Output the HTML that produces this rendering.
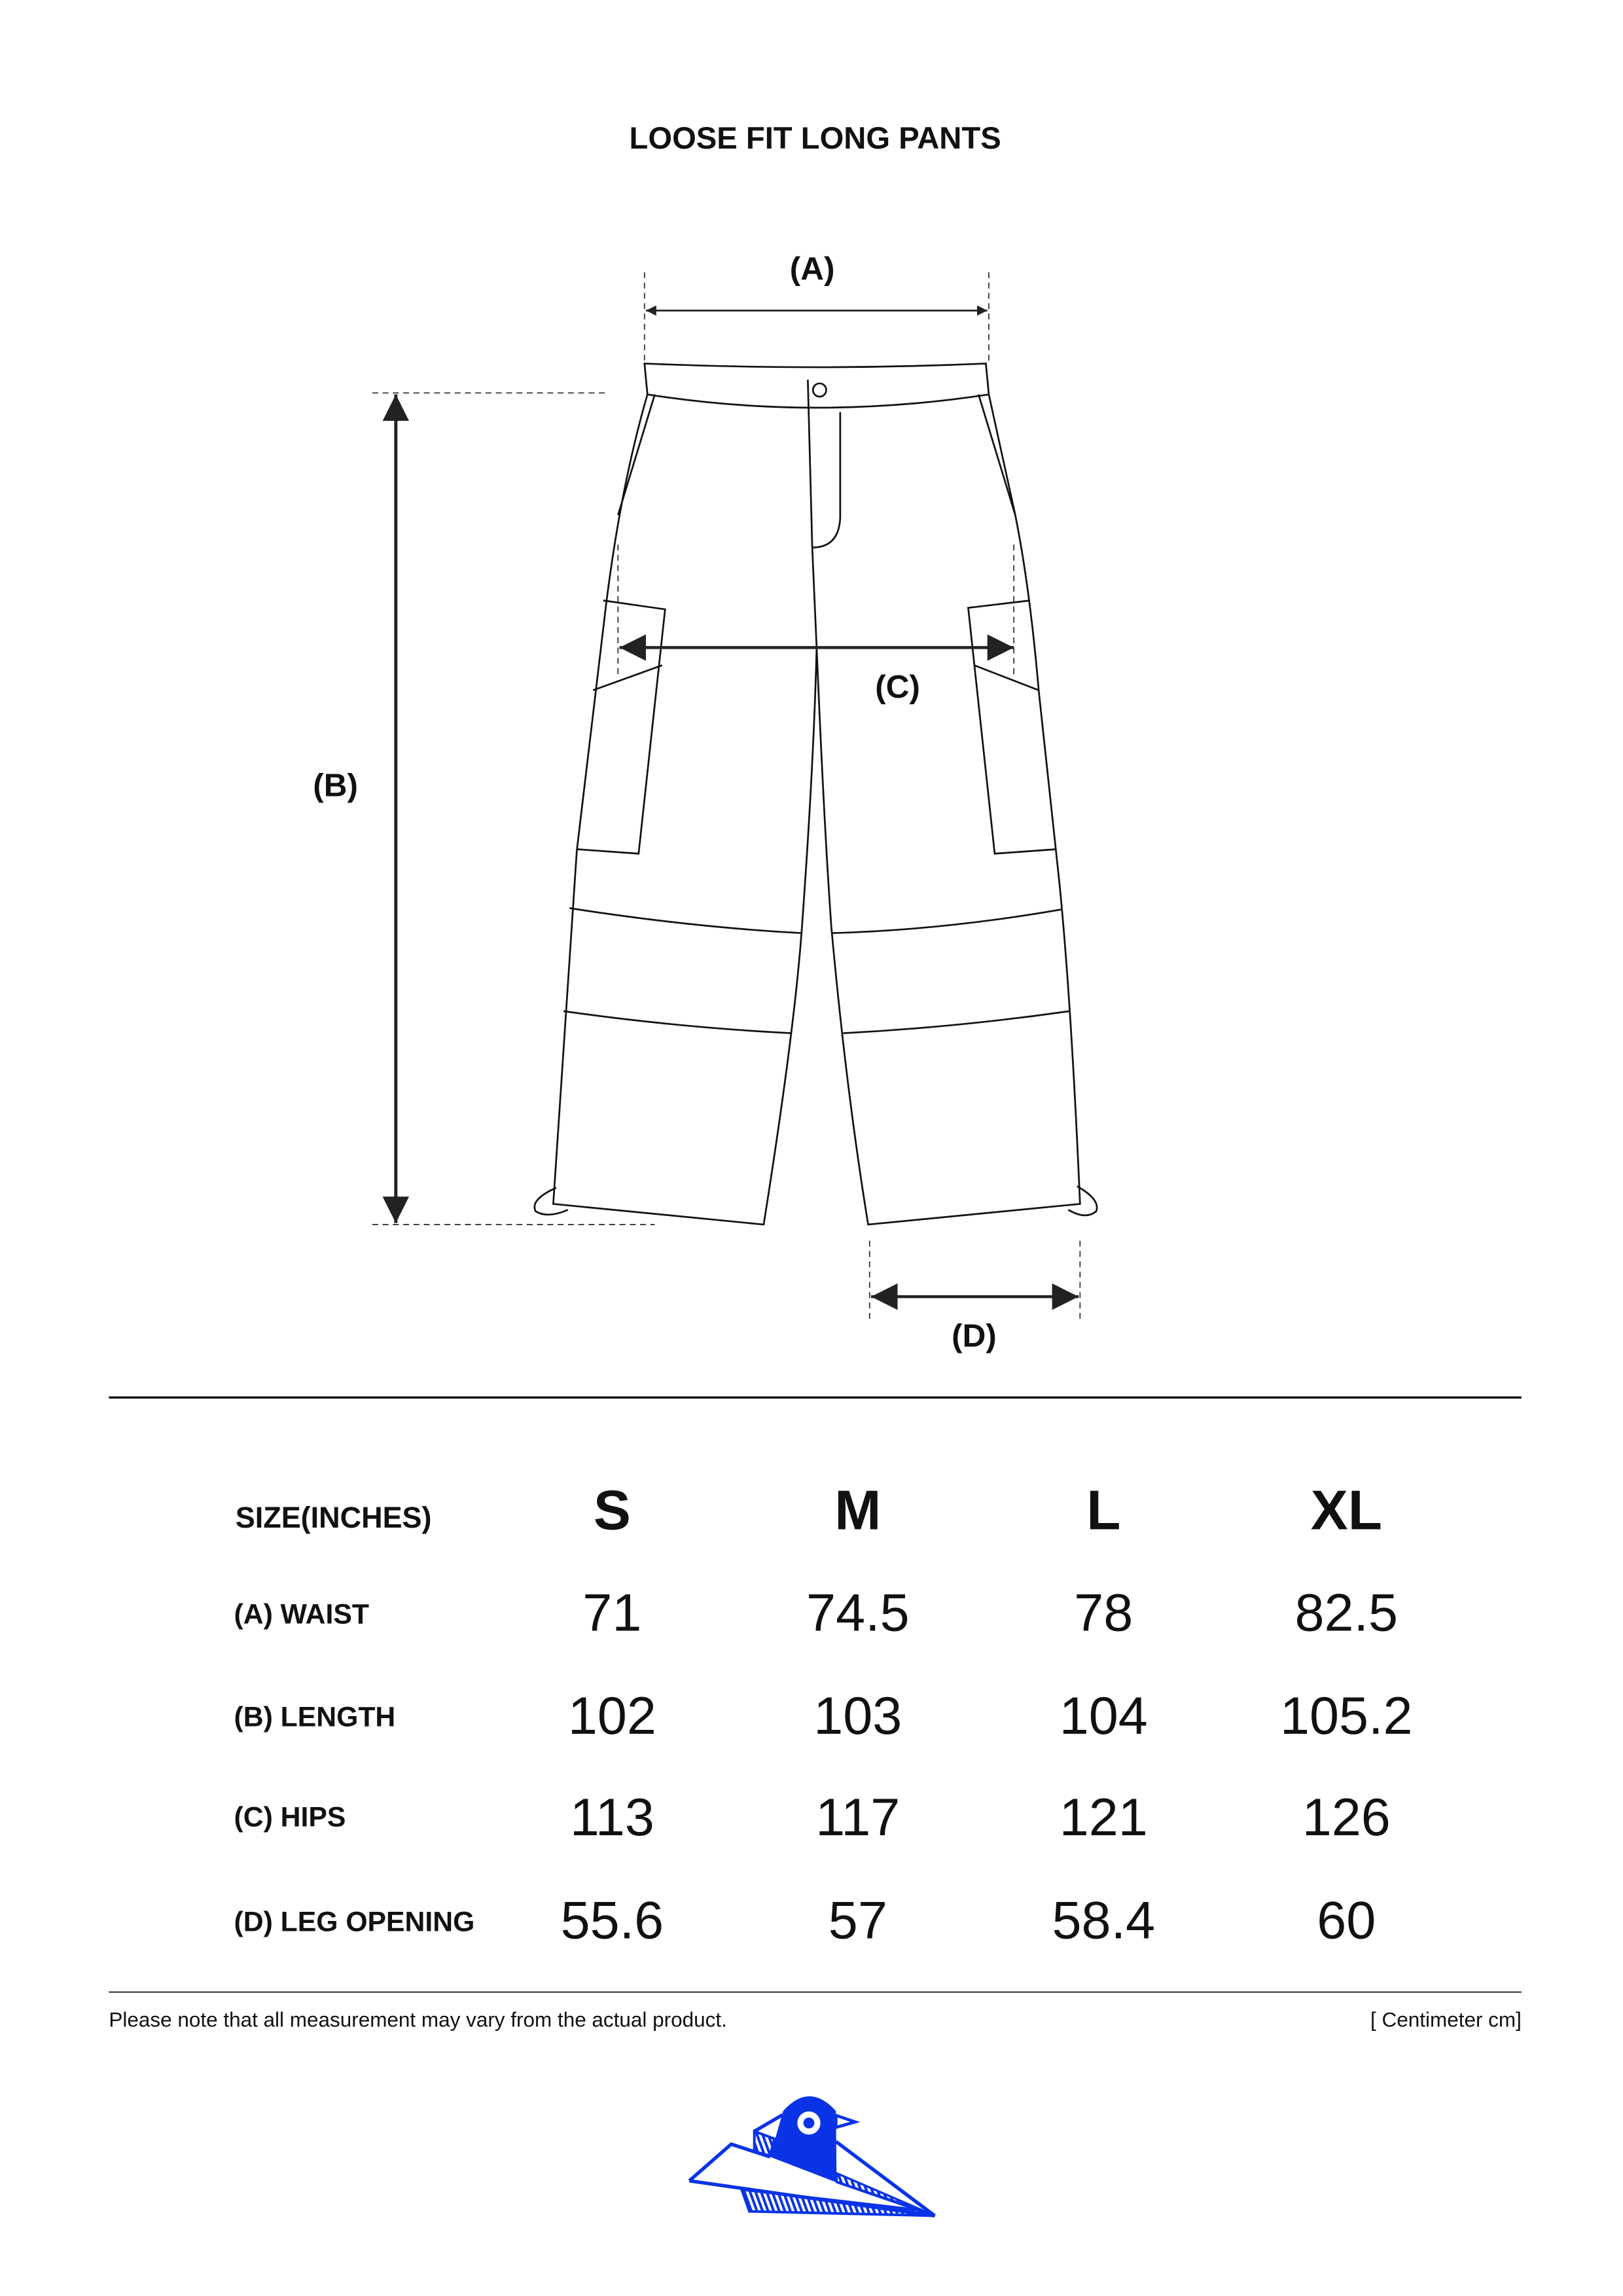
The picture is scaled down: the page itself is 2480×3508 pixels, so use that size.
<!DOCTYPE html>
<html><head><meta charset="utf-8"><style>
html,body{margin:0;padding:0;background:#fff;}
svg{display:block;}
text{font-family:"Liberation Sans",sans-serif;fill:#111;}
</style></head><body>
<svg width="2480" height="3508" viewBox="0 0 1103 1560" preserveAspectRatio="none" xmlns="http://www.w3.org/2000/svg">
<defs>
<marker id="ah" viewBox="0 0 10 10" refX="10" refY="5" markerWidth="7" markerHeight="7" orient="auto-start-reverse" markerUnits="userSpaceOnUse"><path d="M0,0 L10,5 L0,10 Z" fill="#222"/></marker>
<marker id="ahb" viewBox="0 0 10 10" refX="10" refY="5" markerWidth="18" markerHeight="18" orient="auto-start-reverse" markerUnits="userSpaceOnUse"><path d="M0,0 L10,5 L0,10 Z" fill="#222"/></marker>
<pattern id="st" patternUnits="userSpaceOnUse" width="24" height="24" patternTransform="rotate(-20)"><rect width="24" height="24" fill="#fff"/><rect width="12" height="24" fill="#0a33e6"/></pattern>
</defs>
<rect width="1103" height="1560" fill="#fff"/>
<text x="554" y="101" font-size="21" font-weight="bold" text-anchor="middle">LOOSE FIT LONG PANTS</text>

<!-- pants -->
<g fill="none" stroke="#111" stroke-width="1.2">
<path d="M438,247 Q554,252 670,247 L672,268 Q554,286 440,268 Z" fill="#fff"/>
<path d="M440,268 Q422,330 412,410 L392,578 Q386,660 376,818 L519,832 Q540,700 545,630 Q553,520 555,440 Q560,560 565,630 Q575,740 590,832 L734,818 Q728,680 720,600 L706,470 Q700,400 690,350 L672,268"/>
<path d="M445,268 L420,350"/><path d="M665,268 L690,350"/>
<path d="M549,258 L552,372 L555,440"/>
<path d="M571,280 L571,352 Q570,372 552,372"/>
<circle cx="557" cy="265" r="4.5"/>
<path d="M410,408 L452,414 L434,580 L392,577"/><path d="M403,469 L450,452"/>
<path d="M700,408 L658,413 L676,580 L718,577"/><path d="M662,452 L706,469"/>
<path d="M387,617 Q470,630 545,634"/><path d="M383,687 Q460,698 538,702"/>
<path d="M565,634 Q640,632 721,618"/><path d="M573,702 Q650,698 727,687"/>
<path d="M378,807 Q360,815 364,823 Q372,828 386,822"/>
<path d="M732,806 Q748,815 745,823 Q738,829 726,822"/>
</g>

<!-- dimensions -->
<g stroke="#333" stroke-width="0.8" stroke-dasharray="4,3" fill="none">
<path d="M438,185 V247"/><path d="M672,185 V247"/>
<path d="M253,267 H412"/><path d="M253,832 H445"/>
<path d="M420,370 V460"/><path d="M689,370 V460"/>
<path d="M591,843 V898"/><path d="M734,843 V898"/>
</g>
<g stroke="#222" fill="none">
<line x1="439" y1="211" x2="671" y2="211" stroke-width="1.2" marker-start="url(#ah)" marker-end="url(#ah)"/>
<line x1="269" y1="268" x2="269" y2="831" stroke-width="2.2" marker-start="url(#ahb)" marker-end="url(#ahb)"/>
<line x1="421" y1="440" x2="689" y2="440" stroke-width="2" marker-start="url(#ahb)" marker-end="url(#ahb)"/>
<line x1="592" y1="881" x2="733" y2="881" stroke-width="2" marker-start="url(#ahb)" marker-end="url(#ahb)"/>
</g>
<g font-size="22" font-weight="bold" text-anchor="middle">
<text x="552" y="190">(A)</text>
<text x="228" y="541">(B)</text>
<text x="610" y="474">(C)</text>
<text x="662" y="915">(D)</text>
</g>

<line x1="74" y1="949.5" x2="1034" y2="949.5" stroke="#111" stroke-width="1.5"/>
<line x1="74" y1="1353.5" x2="1034" y2="1353.5" stroke="#111" stroke-width="0.8"/>

<g font-weight="bold" font-size="19">
<text x="160" y="1038" font-size="20">SIZE(INCHES)</text>
<text x="159" y="1103">(A) WAIST</text>
<text x="159" y="1173">(B) LENGTH</text>
<text x="159" y="1241">(C) HIPS</text>
<text x="159" y="1312">(D) LEG OPENING</text>
</g>
<g font-size="38" font-weight="bold" text-anchor="middle">
<text x="416" y="1039">S</text><text x="583" y="1039">M</text><text x="750" y="1039">L</text><text x="915" y="1039">XL</text>
</g>
<g font-size="36" text-anchor="middle">
<text x="416" y="1108">71</text><text x="583" y="1108">74.5</text><text x="750" y="1108">78</text><text x="915" y="1108">82.5</text>
<text x="416" y="1178">102</text><text x="583" y="1178">103</text><text x="750" y="1178">104</text><text x="915" y="1178">105.2</text>
<text x="416" y="1247">113</text><text x="583" y="1247">117</text><text x="750" y="1247">121</text><text x="915" y="1247">126</text>
<text x="416" y="1317">55.6</text><text x="583" y="1317">57</text><text x="750" y="1317">58.4</text><text x="915" y="1317">60</text>
</g>
<text x="74" y="1377" font-size="14">Please note that all measurement may vary from the actual product.</text>
<text x="1034" y="1377" font-size="14" text-anchor="end">[ Centimeter cm]</text>

<!-- logo -->
<g transform="translate(462.55,1414.3) scale(0.14825)" stroke="#0a33e6" fill="none" stroke-width="16" stroke-linejoin="miter">
<polygon points="280,495 1100,590 1165,615 315,595" fill="url(#st)" stroke-width="12"/>
<polygon points="715,420 1120,595 715,460" fill="url(#st)" stroke-width="10"/>
<polygon points="338,228 430,262 410,340 338,320" fill="url(#st)" stroke-width="12"/>
<path d="M338,228 L468,152"/>
<path d="M40,455 L232,287 L410,345"/>
<path d="M40,455 L1165,615"/>
<path d="M712,275 L1165,615"/>
<path d="M715,460 L1165,615" stroke-width="12"/>
<polygon points="712,155 800,185 712,210" fill="#fff" stroke-width="14"/>
<path d="M410,345 L470,135 Q590,0 712,135 L715,462 Z" fill="#0a33e6" stroke="none"/>
<circle cx="588" cy="190" r="53" fill="#fff" stroke="none"/>
<circle cx="588" cy="190" r="25" fill="#0a33e6" stroke="none"/>
</g>
</svg>
</body></html>
